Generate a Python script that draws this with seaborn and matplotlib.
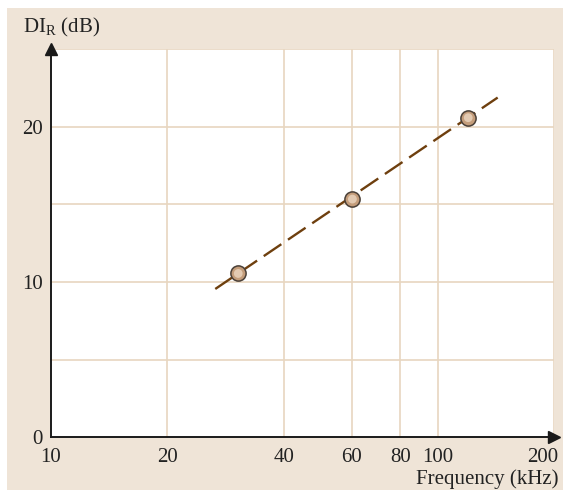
import matplotlib
matplotlib.use("Agg")
import matplotlib.pyplot as plt
import matplotlib.transforms as mtransforms
import seaborn as sns
import pandas as pd
from matplotlib.patches import Rectangle

# data
freq_khz = [30.5, 60.2, 120.0]
di_r_db = [10.55, 15.35, 20.6]
fit_freq = [26.6, 143.0]
fit_di = [9.55, 21.9]
xticks = [10, 20, 40, 60, 80, 100, 200]
yticks = [0, 10, 20]
ygrid = [5, 10, 15, 20, 25]

sns.set_theme(style="white")
plt.rcParams['font.family'] = ['Liberation Serif', 'DejaVu Serif']

fig = plt.figure(figsize=(5.63, 4.90), dpi=100)
fig.patch.set_facecolor("white")
fig.patches.append(Rectangle((7/563, 0), 1 - 7/563, 482/490, transform=fig.transFigure,
                             facecolor="#efe4d7", edgecolor="none", zorder=-10))

ax = fig.add_axes([51/563, (490-437)/490, (554-51)/563, (437-49.5)/490])
ax.set_facecolor("white")
ax.set_xscale("log")
ax.set_xlim(10, 200)
ax.set_ylim(0, 25)

grid_c = "#e8d6c0"
for x in xticks[1:]:
    ax.axvline(x, color=grid_c, lw=1.2, zorder=1)
for y in ygrid:
    ax.axhline(y, color=grid_c, lw=1.2, zorder=1)

fit = pd.DataFrame({"f": fit_freq, "d": fit_di})
sns.lineplot(data=fit, x="f", y="d", ax=ax, color="#6e3f0e", lw=1.7,
             dashes=False, zorder=3)
ax.lines[-1].set_dashes([9, 3.4])

pts = pd.DataFrame({"f": freq_khz, "d": di_r_db})
sns.scatterplot(data=pts, x="f", y="d", ax=ax, s=120, color="#c49d7b",
                edgecolor="#4a4038", linewidth=1.1, zorder=4)
sns.scatterplot(data=pts, x="f", y="d", ax=ax, s=40, color="#e9d3bc",
                edgecolor="none", linewidth=0, zorder=5, alpha=0.85)

for s in ["top", "right"]:
    ax.spines[s].set_visible(False)
for s in ["left", "bottom"]:
    ax.spines[s].set_color("#1a1a1a")
    ax.spines[s].set_linewidth(1.4)

ax.plot(1, 0, marker=">", color="#1a1a1a", ms=9, transform=ax.transAxes, clip_on=False, zorder=6)
ax.plot(0, 1, marker="^", color="#1a1a1a", ms=9, transform=ax.transAxes, clip_on=False, zorder=6)

ax.set_xticks(xticks)
ax.set_xticklabels([str(v) for v in xticks])
ax.xaxis.set_minor_locator(matplotlib.ticker.NullLocator())
ax.set_yticks(yticks)
ax.set_yticklabels([str(v) for v in yticks])
ax.tick_params(axis="both", length=0, labelsize=15, colors="#222222")
ax.tick_params(axis="x", pad=8)
ax.tick_params(axis="y", pad=6)
ax.set_xlabel("")
ax.set_ylabel("")

last = ax.get_xticklabels()[-1]
last.set_horizontalalignment("right")
last.set_transform(last.get_transform() + mtransforms.ScaledTranslation(4/100, 0, fig.dpi_scale_trans))

fig.text(23/563, 1 - 27/490, r"DI$_{\mathregular{R}}$ (dB)", fontsize=15, va="center", ha="left", color="#222222")
fig.text(558/563, 1 - 479/490, "Frequency (kHz)", fontsize=15, va="center", ha="right", color="#222222")

fig.savefig("out.png", dpi=100, facecolor=fig.get_facecolor())
